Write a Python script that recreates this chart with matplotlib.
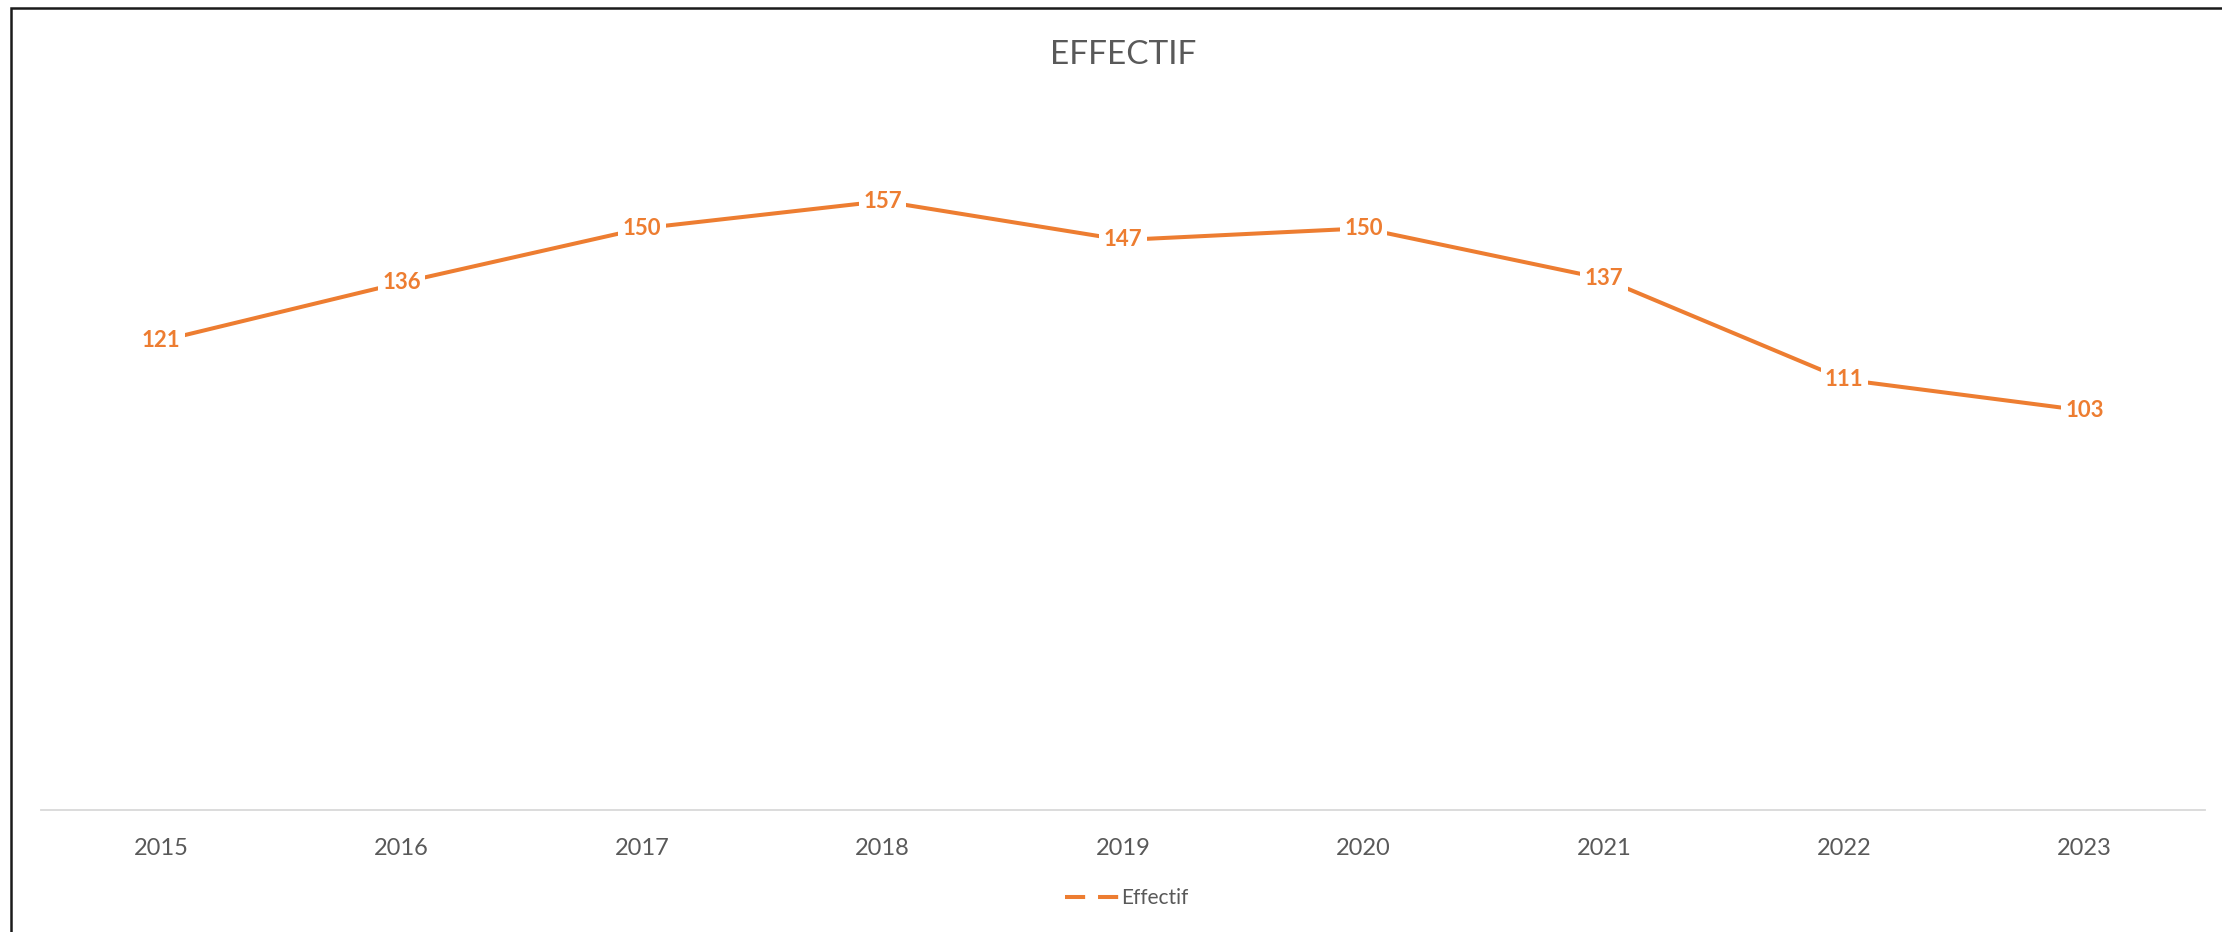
import matplotlib
matplotlib.use("Agg")
import matplotlib.pyplot as plt
from matplotlib.lines import Line2D
from matplotlib.patches import Rectangle
import numpy as np

years = ['2015', '2016', '2017', '2018', '2019', '2020', '2021', '2022', '2023']
effectif = [121, 136, 150, 157, 147, 150, 137, 111, 103]

plt.rcParams['font.family'] = ['Lato', 'DejaVu Sans']

orange = '#ED7D31'
gray = '#595959'

fig = plt.figure(figsize=(22.22, 9.32), dpi=100)
ax = fig.add_axes([41 / 2222, 1 - 810 / 932, 2164 / 2222, 698 / 932])

x = np.arange(len(years))
ax.plot(x, effectif, color=orange, linewidth=2.9, solid_capstyle='butt', zorder=2)

# labels sit on the points with a white box that cuts the line
for xi, val in zip(x, effectif):
    ax.text(xi, val, str(val), ha='center', va='center', fontsize=16,
            fontweight='bold', color=orange, zorder=3,
            bbox=dict(boxstyle='square,pad=0.2', fc='white', ec='none'))

ax.set_xlim(-0.5, len(years) - 0.5)
ax.set_ylim(0, 180)
ax.set_xticks(x)
ax.set_xticklabels(years, fontsize=17, color=gray)
ax.tick_params(axis='x', length=0, pad=20)
ax.set_yticks([])
for side in ['top', 'right', 'left']:
    ax.spines[side].set_visible(False)
ax.spines['bottom'].set_color('#D9D9D9')
ax.spines['bottom'].set_linewidth(1.3)

fig.text(1123 / 2222, 1 - 55 / 932, 'EFFECTIF', ha='center', va='center',
         fontsize=24, color=gray)

handle = Line2D([], [], color=orange, linewidth=2.9, linestyle=(0, (5, 3.2)))
fig.legend([handle], ['Effectif'], loc='center', bbox_to_anchor=(1127 / 2222, 1 - 898 / 932),
           frameon=False, fontsize=15, labelcolor=gray, handlelength=2.6,
           handletextpad=0.1)

fig.patches.append(Rectangle((11 / 2222, -0.05), 1.2, (932 - 8) / 932 + 0.05,
                             transform=fig.transFigure, fill=False,
                             edgecolor='#1a1a1a', linewidth=1.8))

fig.savefig('out.png', dpi=100)
